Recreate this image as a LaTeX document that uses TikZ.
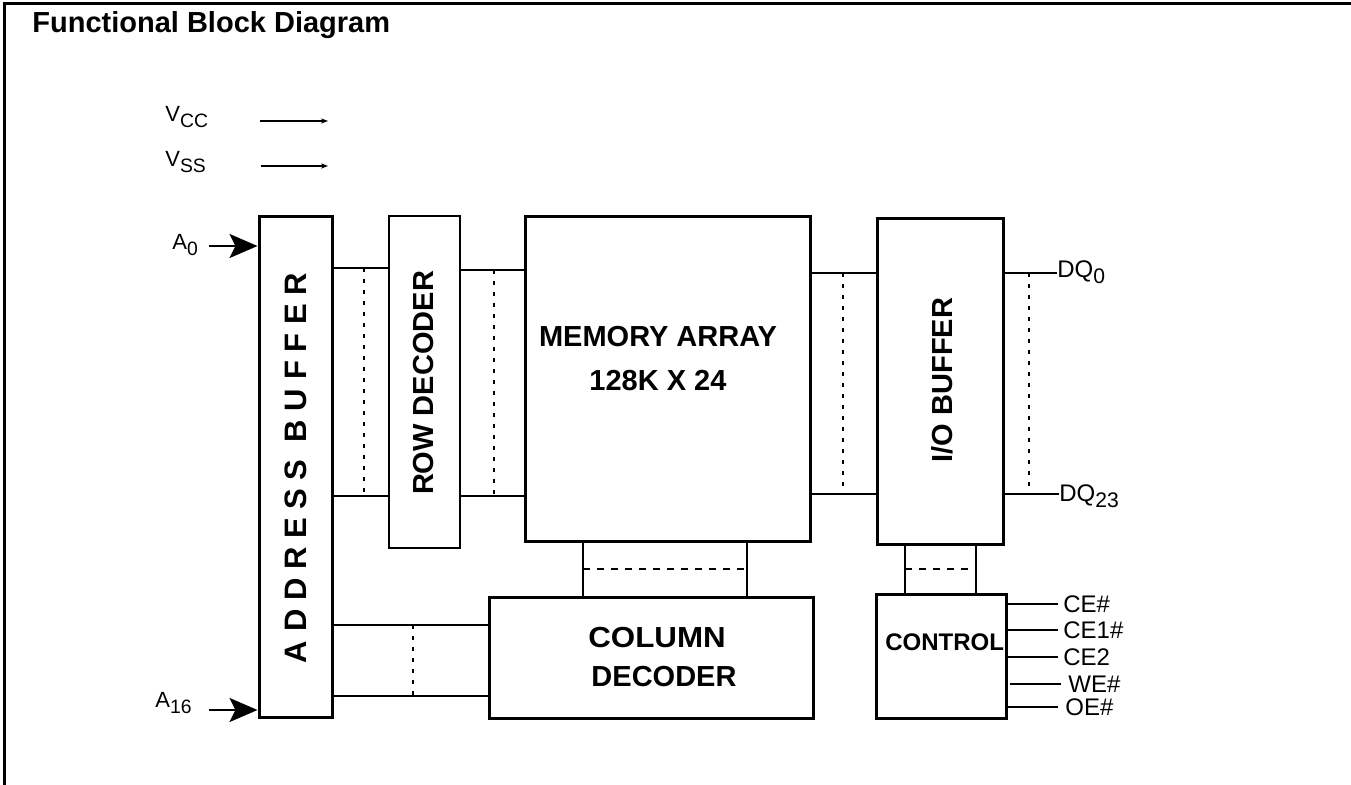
\documentclass[tikz,border=0pt]{standalone}
\usepackage{fontspec}
\setmainfont{Liberation Sans}
\usepackage{graphicx}
\usetikzlibrary{arrows.meta,fit}
\newcommand\sbs[1]{\raisebox{-0.45ex}{\scalebox{0.88}{#1}}}
\begin{document}
\begin{tikzpicture}[x=0.5pt,y=-0.5pt,
  box/.style={draw, line width=1.5pt, inner sep=0pt},
  thinbox/.style={draw, line width=1.1pt, inner sep=0pt},
  wire/.style={line width=1.1pt},
  vdash/.style={line width=1pt, dash pattern=on 2pt off 3.5pt},
  hdash/.style={line width=1pt, dash pattern=on 3.5pt off 3.5pt},
  bold/.style={font=\fontsize{14.5}{17}\selectfont\bfseries, inner sep=0pt},
  lab/.style={font=\fontsize{12}{14}\selectfont, inner sep=0pt},
  slab/.style={font=\fontsize{11}{13}\selectfont, inner sep=0pt},
  bigarrow/.style={line width=1.4pt, -{Stealth[length=14pt,width=12pt,inset=3pt]}},
  smallarrow/.style={line width=1pt, -{Stealth[length=3.5pt,width=2.6pt]}},
]
\useasboundingbox (0,0) rectangle (1351,785);
% frame
\draw[line width=1.5pt] (4,785) -- (4,4) -- (1351,4);
\node[bold, anchor=base west] (title) at (32,33) {Functional Block Diagram};

% power
\node[slab, anchor=base west] (vcc) at (165,122) {V\sbs{CC}};
\node[slab, anchor=base west] (vss) at (165,167) {V\sbs{SS}};
\coordinate (vccs) at (260,121); \coordinate (vcce) at (328,121);
\coordinate (vsss) at (261,166); \coordinate (vsse) at (328,166);
\draw[smallarrow] (vccs) -- (vcce);
\draw[smallarrow] (vsss) -- (vsse);

% blocks
\node[box, fit={(259,217) (332,718)}] (ab) {};
\node[thinbox, fit={(389,216) (460,548)}] (rd) {};
\node[box, fit={(525,217) (810,542)}] (ma) {};
\node[box, fit={(877,219) (1003,545)}] (io) {};
\node[box, fit={(489,598) (813,719)}] (cd) {};
\node[box, fit={(876,595) (1006,719)}] (ct) {};

% block texts
\node[bold, rotate=90, font={\fontsize{15.5}{18}\selectfont\bfseries\addfontfeature{LetterSpace=28}}] (abt) at (296,468) {ADDRESS BUFFER};
\node[bold, rotate=90] (rdt) at (424,383) {ROW DECODER};
\node[bold, anchor=base] (mat1) at (658,347) {MEMORY ARRAY};
\node[bold, anchor=base] (mat2) at (658,391) {128K X 24};
\node[bold, rotate=90] (iot) at (942,380) {I/O BUFFER};
\node[bold, anchor=base] (cdt1) at (657,648) {\scalebox{1.08}[1]{COLUMN}};
\node[bold, anchor=base] (cdt2) at (664,687) {DECODER};
\node[font=\fontsize{12}{14}\selectfont\bfseries, inner sep=0pt, anchor=base west] (ctt) at (885,651) {CONTROL};

% address inputs
\node[slab, anchor=base west] (a0) at (172,250) {A\sbs{0}};
\node[slab, anchor=base west] (a16) at (155,708) {A\sbs{16}};
\coordinate (a0s) at (209,246);
\coordinate (a16s) at (209,710);
\draw[bigarrow] (a0s) -- (ab.west |- a0s);
\draw[bigarrow] (a16s) -- (ab.west |- a16s);

% address buffer -> row decoder
\coordinate (r1) at (0,268); \coordinate (r2) at (0,496); \coordinate (r3) at (0,270);
\draw[wire] (ab.east |- r1) -- (rd.west |- r1);
\draw[wire] (ab.east |- r2) -- (rd.west |- r2);
\draw[vdash] (364,268) -- (364,496);
% row decoder -> memory
\draw[wire] (rd.east |- r3) -- (ma.west |- r3);
\draw[wire] (rd.east |- r2) -- (ma.west |- r2);
\draw[vdash] (494,270) -- (494,496);

% memory -> io
\coordinate (d1) at (0,273); \coordinate (d2) at (0,494);
\draw[wire] (ma.east |- d1) -- (io.west |- d1);
\draw[wire] (ma.east |- d2) -- (io.west |- d2);
\draw[vdash] (843,273) -- (843,494);

% io -> DQ
\node[lab, anchor=base west] (dq0) at (1057,278) {DQ\sbs{0}};
\node[lab, anchor=base west] (dq23) at (1059,502) {DQ\sbs{23}};
\draw[wire] (io.east |- d1) -- (dq0.west |- d1);
\draw[wire] (io.east |- d2) -- (dq23.west |- d2);
\draw[vdash] (1029,273) -- (1029,494);

% address buffer -> column decoder
\coordinate (c1) at (0,625); \coordinate (c2) at (0,696);
\draw[wire] (ab.east |- c1) -- (cd.west |- c1);
\draw[wire] (ab.east |- c2) -- (cd.west |- c2);
\draw[vdash] (413,625) -- (413,696);

% memory -> column decoder
\coordinate (m1) at (583,0); \coordinate (m2) at (747,0);
\draw[wire] (ma.south -| m1) -- (cd.north -| m1);
\draw[wire] (ma.south -| m2) -- (cd.north -| m2);
\draw[hdash] (583,569) -- (747,569);

% io -> control
\coordinate (k1) at (905,0); \coordinate (k2) at (976,0);
\draw[wire] (io.south -| k1) -- (ct.north -| k1);
\draw[wire] (io.south -| k2) -- (ct.north -| k2);
\draw[hdash] (905,569) -- (976,569);

% control signals
\node[lab, anchor=west, inner xsep=2.5pt] (ce) at (1058,604) {CE\#};
\node[lab, anchor=west, inner xsep=2.5pt] (ce1) at (1058,630) {CE1\#};
\node[lab, anchor=west, inner xsep=2.5pt] (ce2) at (1058,657) {CE2};
\node[lab, anchor=west, inner xsep=3.5pt] (we) at (1061,684) {WE\#};
\node[lab, anchor=west, inner xsep=3.5pt] (oe) at (1058,707) {OE\#};
\draw[wire] (ct.east |- ce.west) -- (ce.west);
\draw[wire] (ct.east |- ce1.west) -- (ce1.west);
\draw[wire] (ct.east |- ce2.west) -- (ce2.west);
\draw[wire] ([xshift=1pt]ct.east |- we.west) -- (we.west);
\draw[wire] (ct.east |- oe.west) -- (oe.west);
\end{tikzpicture}
\end{document}
